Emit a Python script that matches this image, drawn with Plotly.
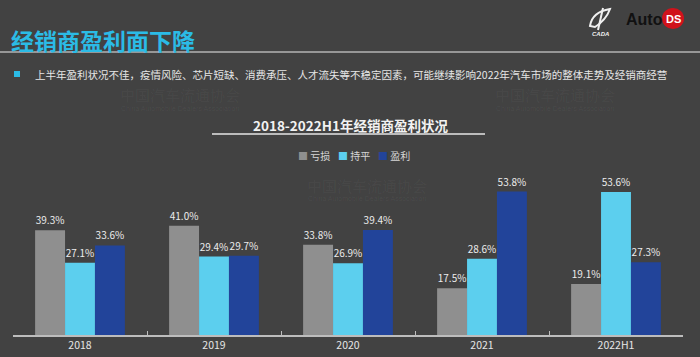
import plotly.graph_objects as go

categories = ["2018", "2019", "2020", "2021", "2022H1"]
loss = [39.3, 41.0, 33.8, 17.5, 19.1]
breakeven = [27.1, 29.4, 26.9, 28.6, 53.6]
profit = [33.6, 29.7, 39.4, 53.8, 27.3]
series_names = ["亏损", "持平", "盈利"]
series_colors = ["#8f8f8f", "#5ccfee", "#22449a"]

W, H = 700, 357
BG = "#424242"
FONT = "Noto Sans CJK SC"

def px(x):
    return x / W

def py(y):
    return 1 - y / H

fig = go.Figure()
for name, vals, col in zip(series_names, [loss, breakeven, profit], series_colors):
    fig.add_trace(go.Bar(
        x=categories, y=vals, name=name, marker=dict(color=col, line=dict(width=0)),
        texttemplate="%{y:.1f}%", textposition="outside",
        textfont=dict(family=FONT, size=10, color="#ececec"),
        cliponaxis=False, showlegend=False, hoverinfo="skip",
    ))

annotations = []
shapes = []

# Header title
annotations.append(dict(text="<b>经销商盈利面下降</b>", x=px(9), y=py(40), xref="paper", yref="paper",
                        xanchor="left", yanchor="middle", showarrow=False,
                        font=dict(family=FONT, size=23, color="#2bbbe6")))
shapes.append(dict(type="line", xref="paper", yref="paper", x0=0, x1=1, y0=py(52), y1=py(52),
                   line=dict(color="#b4b4b4", width=1.5)))
# bullet
shapes.append(dict(type="rect", xref="paper", yref="paper", x0=px(14), x1=px(20), y0=py(77), y1=py(71),
                   fillcolor="#2bbbe6", line=dict(width=0)))
annotations.append(dict(text="上半年盈利状况不佳，疫情风险、芯片短缺、消费承压、人才流失等不稳定因素，可能继续影响2022年汽车市场的整体走势及经销商经营",
                        x=px(33), y=py(74), xref="paper", yref="paper", xanchor="left", yanchor="middle",
                        showarrow=False, font=dict(family=FONT, size=10.5, color="#e6e6e6")))

# Watermarks
for cx, cy in [(180, 95), (367, 185), (555, 95)]:
    annotations.append(dict(text="中国汽车流通协会", x=px(cx), y=py(cy), xref="paper", yref="paper",
                            xanchor="center", yanchor="middle", showarrow=False,
                            font=dict(family="Noto Serif CJK SC, " + FONT, size=15, color="rgba(255,255,255,0.05)")))
    annotations.append(dict(text="China Automobile Dealers Association", x=px(cx), y=py(cy + 13), xref="paper", yref="paper",
                            xanchor="center", yanchor="middle", showarrow=False,
                            font=dict(family="Liberation Sans", size=7, color="rgba(255,255,255,0.05)")))

# Chart title
annotations.append(dict(text="<b>2018-2022H1年经销商盈利状况</b>", x=0.5, y=py(125), xref="paper", yref="paper",
                        xanchor="center", yanchor="middle", showarrow=False,
                        font=dict(family=FONT, size=13.5, color="#f2f2f2")))
shapes.append(dict(type="line", xref="paper", yref="paper", x0=px(212), x1=px(485), y0=py(134), y1=py(134),
                   line=dict(color="#e6e6e6", width=1.5)))

# Legend (built from series)
leg_x = [296, 336, 376]
for name, col, lx in zip(series_names, series_colors, leg_x):
    annotations.append(dict(text=f'<span style="color:{col}">■</span> {name}', x=px(lx), y=py(155),
                            xref="paper", yref="paper", xanchor="left", yanchor="middle", showarrow=False,
                            font=dict(family=FONT, size=10, color="#d6d6d6")))

# Logos (top right)
annotations.append(dict(text="<b>Auto</b>", x=px(624), y=py(19), xref="paper", yref="paper",
                        xanchor="left", yanchor="middle", showarrow=False,
                        font=dict(family="Liberation Sans Narrow, Liberation Sans", size=16, color="#111111")))
shapes.append(dict(type="circle", xref="paper", yref="paper", x0=px(662), x1=px(684), y0=py(29), y1=py(8),
                   fillcolor="#d0121b", line=dict(width=0)))
annotations.append(dict(text="<b>DS</b>", x=px(673), y=py(18.5), xref="paper", yref="paper",
                        xanchor="center", yanchor="middle", showarrow=False,
                        font=dict(family="Liberation Sans", size=11, color="#ffffff")))
shapes.append(dict(type="path", xref="paper", yref="paper",
                   path=f"M {px(590)} {py(26)} Q {px(592)} {py(12)} {px(610)} {py(9)} Q {px(606)} {py(20)} {px(595)} {py(27)} Z",
                   fillcolor="rgba(0,0,0,0)", line=dict(color="#f0f0f0", width=2)))
shapes.append(dict(type="path", xref="paper", yref="paper",
                   path=f"M {px(603)} {py(8)} L {px(598)} {py(30)}",
                   line=dict(color="#f0f0f0", width=2)))
annotations.append(dict(text="<b><i>CADA</i></b>", x=px(600), y=py(34), xref="paper", yref="paper",
                        xanchor="center", yanchor="middle", showarrow=False,
                        font=dict(family="Liberation Sans", size=6, color="#f0f0f0")))

fig.update_layout(
    width=W, height=H, margin=dict(l=0, r=0, t=0, b=0),
    paper_bgcolor=BG, plot_bgcolor=BG,
    barmode="group", bargap=0.33, bargroupgap=0,
    annotations=annotations, shapes=shapes,
    font=dict(family=FONT), hovermode=False,
    xaxis=dict(domain=[px(13), px(683)], showgrid=False, zeroline=False,
               showline=True, linecolor="#bdbdbd", linewidth=1.5,
               ticks="inside", ticklen=4, tickcolor="#bdbdbd", tickson="boundaries",
               tickfont=dict(family=FONT, size=10.5, color="#e6e6e6"), automargin=False),
    yaxis=dict(domain=[1 - 335 / H, 1 - 175 / H], range=[0, 60], visible=False, automargin=False),
)

fig.write_html("out.html", config={"displayModeBar": False},
               post_script="document.body.style.margin='0';document.body.style.background='" + BG + "';")
